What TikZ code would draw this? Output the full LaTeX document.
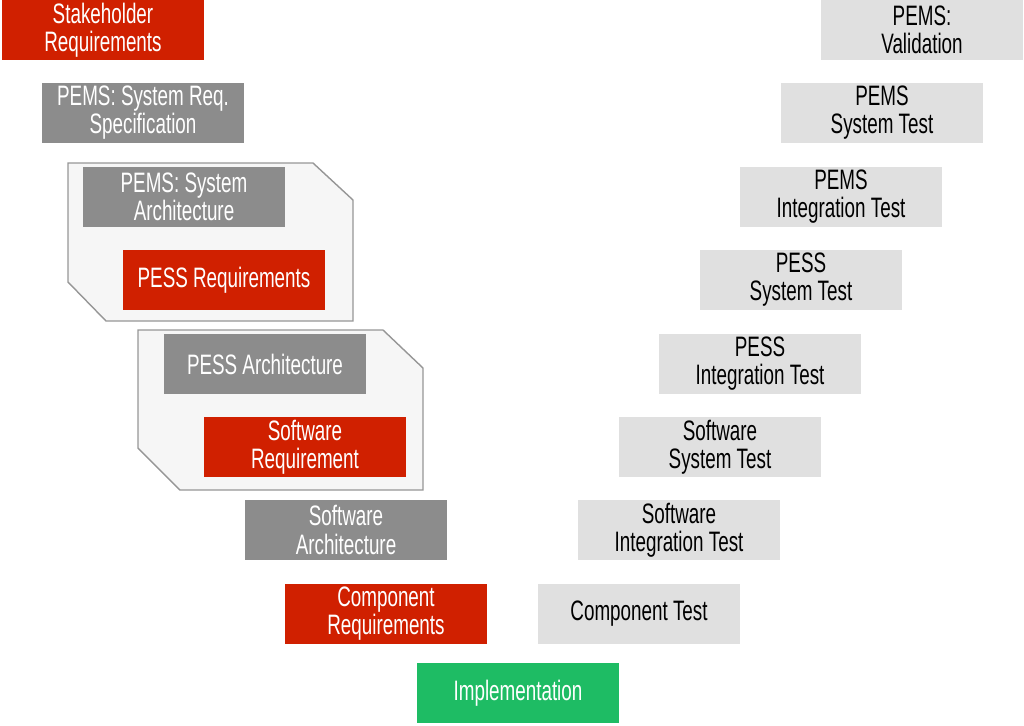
\documentclass[tikz,border=0pt]{standalone}
\usepackage{fontspec}
\setmainfont{Liberation Sans}[FakeStretch=0.67]
\usepackage{tikz}
\usetikzlibrary{positioning}
\definecolor{reqred}{RGB}{208,32,0}
\definecolor{archgray}{RGB}{140,140,140}
\definecolor{testgray}{RGB}{224,224,224}
\definecolor{implgreen}{RGB}{30,188,100}
\definecolor{groupfill}{RGB}{246,246,246}
\definecolor{groupline}{RGB}{150,150,150}
\tikzset{
  vbox/.style={rectangle, minimum width=4.04cm, minimum height=1.2cm, align=center, text centered, inner sep=1pt, font=\fontsize{16}{16}\selectfont},
  reqbox/.style={vbox, fill=reqred, text=white},
  archbox/.style={vbox, fill=archgray, text=white},
  testbox/.style={vbox, fill=testgray, text=black},
  implbox/.style={vbox, fill=implgreen, text=white},
  groupbox/.style={fill=groupfill, draw=groupline, line width=0.8pt}
}
\begin{document}
\begin{tikzpicture}[x=0.02cm, y=0.02cm]
    \useasboundingbox (0,0) rectangle (1024,-725);

    % Gruppen (Hintergrund)
    \draw[groupbox] (68,-163) -- (313,-163) -- (353,-200) -- (353,-321) -- (106,-321) -- (68,-282) -- cycle;
    \draw[groupbox] (138,-330) -- (383,-330) -- (423,-368) -- (423,-490) -- (180,-490) -- (138,-448) -- cycle;

    % Linker Ast
    \node[reqbox]  (stakereq) at (103,-30)  {Stakeholder\\Requirements};
    \node[archbox] (sysreq)   at (143,-113) {PEMS: System Req.\\Specification};
    \node[archbox] (sysarch)  at (184,-197) {PEMS: System\\Architecture};
    \node[reqbox]  (pessreq)  at (224,-280) {PESS Requirements};
    \node[archbox] (pessarch) at (265,-364) {PESS Architecture};
    \node[reqbox]  (swreq)    at (305,-447) {Software\\Requirement};
    \node[archbox] (swarch)   at (346,-530) {Software\\Architecture};
    \node[reqbox]  (compreq)  at (386,-614) {Component\\Requirements};

    % Spitze
    \node[implbox] (impl) at (518,-693) {Implementation};

    % Rechter Ast
    \node[testbox] (comptest) at (639,-614) {Component Test};
    \node[testbox] (swint)    at (679,-530) {Software\\Integration Test};
    \node[testbox] (swsys)    at (720,-447) {Software\\System Test};
    \node[testbox] (pessint)  at (760,-364) {PESS\\Integration Test};
    \node[testbox] (pesssys)  at (801,-280) {PESS\\System Test};
    \node[testbox] (pemsint)  at (841,-197) {PEMS\\Integration Test};
    \node[testbox] (pemssys)  at (882,-113) {PEMS\\System Test};
    \node[testbox] (pemsval)  at (922,-30)  {PEMS:\\Validation};

\end{tikzpicture}
\end{document}
